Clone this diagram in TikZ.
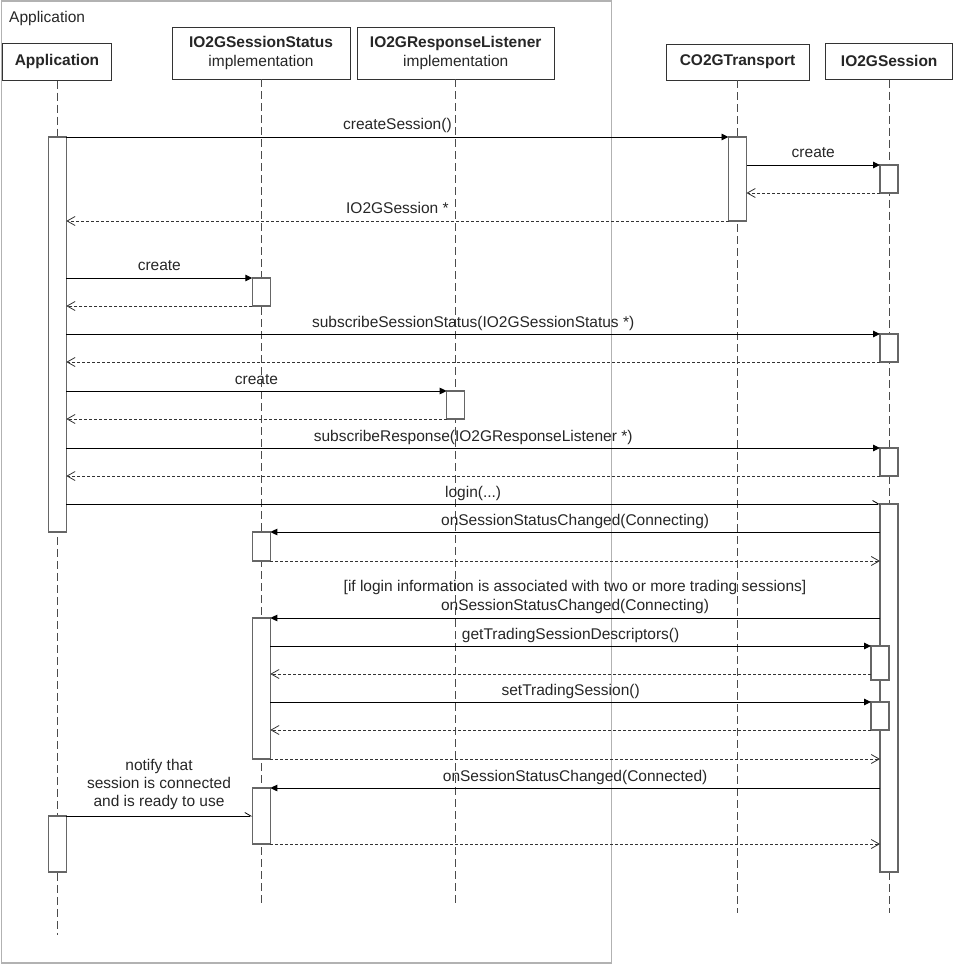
\documentclass[tikz,border=0pt]{standalone}
\usepackage{fontspec}
\setmainfont{Liberation Sans}
\usetikzlibrary{arrows.meta}
\newcommand\actv[4]{\node[act, minimum width=18pt, minimum height={(#4)-(#3)}] (#1) at (#2,{((#3)+(#4))/2}) {};}
\newcommand\msgline[6]{%
  \coordinate (#6a) at (#3,#2);
  \coordinate (#6b) at (#4,#2);
  \draw[#1] (#6a) -- node[lab, pos=0.5, yshift=7pt] {#5} (#6b);}
\begin{document}
\begin{tikzpicture}[x=1pt,y=-1pt,
  every node/.style={font=\fontsize{15.5}{19}\selectfont, text=black!85},
  head/.style={draw=black!80, line width=0.9pt, fill=white, inner sep=0pt, align=center},
  life/.style={draw=black!70, line width=0.9pt, dash pattern=on 8pt off 4pt},
  act/.style={draw=black!60, line width=1.1pt, fill=white, inner sep=0pt},
  call/.style={draw=black, line width=0.9pt, -{Triangle[length=7pt,width=6.5pt]}},
  ret/.style={draw=black!80, line width=0.9pt, dash pattern=on 3pt off 2pt, -{Straight Barb[length=8pt,width=9pt,line width=0.8pt]}},
  async/.style={draw=black, line width=0.9pt, -{Straight Barb[left,length=6pt,width=7pt,line width=0.8pt]}},
  lab/.style={anchor=base, inner sep=0pt}
]
\useasboundingbox (0,0) rectangle (953,965);
% frame
\draw[black!30, line width=1.2pt] (1.5,1) rectangle (611.5,963);
\node[anchor=base west, inner sep=0pt] (frl) at (9,22.5) {Application};
% headers
\node[head, minimum width=109pt, minimum height=37pt] (hApp) at (57,61.8) {\textbf{Application}};
\node[head, minimum width=178pt, minimum height=52pt] (hSS) at (261,53) {\textbf{IO2GSessionStatus}\\implementation};
\node[head, minimum width=197pt, minimum height=52pt] (hRL) at (455.7,53) {\textbf{IO2GResponseListener}\\implementation};
\node[head, minimum width=143pt, minimum height=36pt] (hCT) at (737.5,62) {\textbf{CO2GTransport}};
\node[head, minimum width=127pt, minimum height=36pt] (hIS) at (889.2,61.3) {\textbf{IO2GSession}};
% lifeline ends
\coordinate (eApp) at (57,935);
\coordinate (eSS) at (261,903);
\coordinate (eRL) at (455.7,903);
\coordinate (eCT) at (737.5,913);
\coordinate (eIS) at (889.2,913);
\draw[life] (hApp.south) -- (eApp);
\draw[life] (hSS.south) -- (eSS);
\draw[life] (hRL.south) -- (eRL);
\draw[life] (hCT.south) -- (eCT);
\draw[life] (hIS.south) -- (eIS);
% activations
\actv{aApp1}{57.3}{137}{532}
\actv{aApp2}{57.3}{816}{872}
\actv{aCT}{737.5}{137}{221}
\actv{aIS1}{889}{165}{193}
\actv{aSS1}{261.3}{278}{306}
\actv{aIS2}{889}{334}{362}
\actv{aRL}{455.7}{391}{419}
\actv{aIS3}{889}{448}{476}
\actv{aIS4}{889}{504}{872}
\actv{aSS2}{261.3}{532}{561}
\actv{aSS3}{261.3}{618}{759}
\actv{aIS5}{880}{646}{680}
\actv{aIS6}{880}{702}{730}
\actv{aSS4}{261.3}{788}{844}
% messages
\msgline{call}{137}{66.3}{728.5}{createSession()}{m1}
\msgline{call}{165}{746.5}{880}{create}{m2}
\msgline{ret}{193}{880}{746.5}{}{m3}
\msgline{ret}{221}{728.5}{66.3}{IO2GSession *}{m4}
\msgline{call}{278}{66.3}{252.3}{create}{m5}
\msgline{ret}{306}{252.3}{66.3}{}{m6}
\msgline{call}{334}{66.3}{880}{subscribeSessionStatus(IO2GSessionStatus *)}{m7}
\msgline{ret}{362}{880}{66.3}{}{m8}
\msgline{call}{391}{66.3}{446.7}{create}{m9}
\msgline{ret}{419}{446.7}{66.3}{}{m10}
\msgline{call}{448}{66.3}{880}{subscribeResponse(IO2GResponseListener *)}{m11}
\msgline{ret}{476}{880}{66.3}{}{m12}
\msgline{async}{504}{66.3}{880}{login(...)}{m13}
\msgline{call}{532}{880}{270.3}{onSessionStatusChanged(Connecting)}{m14}
\msgline{ret}{561}{270.3}{880}{}{m15}
\msgline{call}{618}{880}{270.3}{}{m16}
\node[inner sep=0pt, align=center, anchor=south, text depth=0pt] (l16) at (575,611) {[if login information is associated with two or more trading sessions]\\onSessionStatusChanged(Connecting)};
\msgline{call}{646}{270.3}{871}{getTradingSessionDescriptors()}{m17}
\msgline{ret}{674}{871}{270.3}{}{m18}
\msgline{call}{702}{270.3}{871}{setTradingSession()}{m19}
\msgline{ret}{730}{871}{270.3}{}{m20}
\msgline{ret}{759}{270.3}{880}{}{m21}
\msgline{call}{788}{880}{270.3}{onSessionStatusChanged(Connected)}{m22}
\msgline{async}{816}{66.3}{252.3}{}{m23}
\node[inner sep=0pt, align=center, anchor=south, text depth=0pt, font=\fontsize{15.5}{18}\selectfont] (l23) at (159,807) {notify that\\session is connected\\and is ready to use};
\msgline{ret}{844}{270.3}{880}{}{m24}
\end{tikzpicture}
\end{document}
